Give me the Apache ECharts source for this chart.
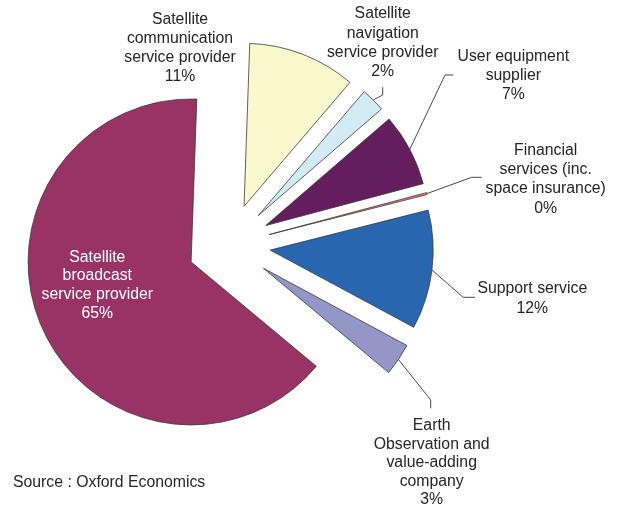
<!DOCTYPE html>
<html>
<head>
<meta charset="utf-8">
<script src="https://cdn.jsdelivr.net/npm/echarts@6/dist/echarts.min.js"></script>
<style>
  html, body { margin: 0; padding: 0; background: #fff; }
  #chart { width: 622px; height: 506px; }
</style>
</head>
<body>
<div id="chart"></div>
<script>
// Industry segments, listed clockwise starting just right of 12 o'clock
const categories = [
  'Satellite\ncommunication\nservice provider',
  'Satellite\nnavigation\nservice provider',
  'User equipment\nsupplier',
  'Financial\nservices (inc.\nspace insurance)',
  'Support service',
  'Earth\nObservation and\nvalue-adding\ncompany',
  'Satellite\nbroadcast\nservice provider'
];
// Share of revenue, percent
const shares = [10.7, 2.4, 7.2, 0.2, 11.8, 3.2, 64.5];
const colors = ['#FAF8CD', '#D3ECF3', '#641E5F', '#F08080', '#2966B0', '#9496C8', '#993366'];
const sourceNote = 'Source : Oxford Economics';

// Geometry of the exploded pie
const PIE_CX = 229, PIE_CY = 245, PIE_R = 163;
const EXPLODE = 41.5;      // distance each slice is pulled out from the centre
const START_CW = 2;        // first slice edge, degrees clockwise from 12 o'clock

const FONT = '"Liberation Sans", Arial, sans-serif';
const TEXT = '#262626';

// Where each label block sits (centre x, top y) and the elbow of its leader line
const labelPlacement = [
  { x: 180,   y: 10.5,  lh: 19,   line: null },
  { x: 382.7, y: 4.5,   lh: 19.2, line: [[382.7, 95], [382.7, 87.3]] },
  { x: 513.3, y: 47,    lh: 19.2, line: [[445, 75], [453.3, 75]] },
  { x: 545.7, y: 140.5, lh: 19.4, line: [[471.7, 177.3], [481.7, 177.3]] },
  { x: 532.3, y: 278.5, lh: 20,   line: [[463.3, 297.3], [475, 297.3]] },
  { x: 431.7, y: 416.5, lh: 18.5, line: [[430.7, 400], [430.7, 408.3]] },
  { x: 97.3,  y: 248,   lh: 18.7, line: null, inside: true }
];

const total = shares.reduce((a, b) => a + b, 0);
let acc = 0;

// One series per slice so each can be pulled out along its own bisector
const series = shares.map((v, i) => {
  const a0 = START_CW + 360 * acc / total;
  const mid = (a0 + 180 * v / total) * Math.PI / 180;
  acc += v;
  const cx = PIE_CX + EXPLODE * Math.sin(mid);
  const cy = PIE_CY - EXPLODE * Math.cos(mid);
  const place = labelPlacement[i];

  return {
    type: 'pie',
    radius: PIE_R,
    center: [cx, cy],
    startAngle: 90 - START_CW,
    clockwise: true,
    avoidLabelOverlap: false,
    silent: true,
    animation: false,
    minAngle: 0,
    data: shares.map((s, j) => {
      if (j !== i) {
        return {
          name: categories[j], value: s,
          itemStyle: { color: 'rgba(0,0,0,0)', borderWidth: 0 },
          label: { show: false }, labelLine: { show: false },
          emphasis: { disabled: true }
        };
      }
      return {
        name: categories[j], value: s,
        itemStyle: { color: colors[j], borderColor: '#3a3a3a', borderWidth: 0.8 },
        label: {
          show: true,
          position: place.inside ? 'inside' : 'outside',
          formatter: p => p.name + '\n' + Math.round(p.value) + '%',
          color: place.inside ? '#ffffff' : TEXT,
          fontFamily: FONT,
          fontSize: 15.8,
          lineHeight: place.lh,
          align: 'center'
        },
        labelLine: {
          show: !!place.line,
          smooth: false,
          lineStyle: { color: '#333333', width: 0.9 }
        },
        emphasis: { disabled: true }
      };
    }),
    labelLayout: p => {
      if (p.dataIndex !== i) return {};
      const out = { x: place.x, y: place.y, align: 'center', verticalAlign: 'top' };
      if (place.line && p.labelLinePoints) {
        out.labelLinePoints = [p.labelLinePoints[0]].concat(place.line);
      }
      return out;
    }
  };
});

const chart = echarts.init(document.getElementById('chart'), null, { renderer: 'canvas' });
chart.setOption({
  backgroundColor: '#ffffff',
  animation: false,
  title: {
    text: sourceNote,
    left: 13,
    top: 475,
    padding: 0,
    textStyle: { fontFamily: FONT, fontSize: 15.8, fontWeight: 'normal', color: TEXT }
  },
  series: series
});
</script>
</body>
</html>
